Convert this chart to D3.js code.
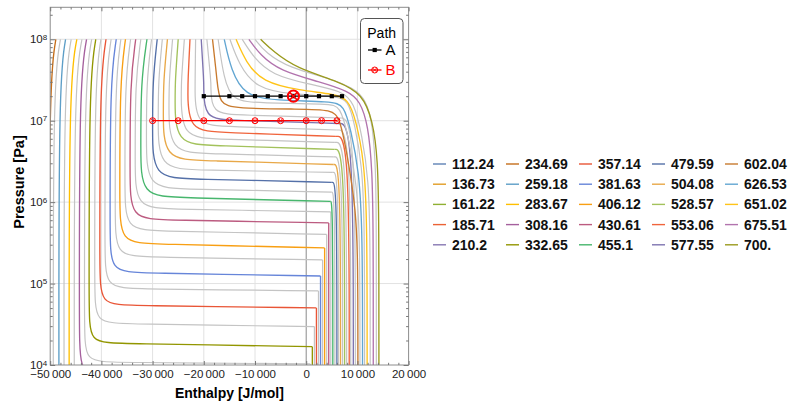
<!DOCTYPE html>
<meta charset="utf-8">
<style>
body { margin: 0; background: #fff; }
text { font-family: "Liberation Sans", Arial, sans-serif; }
</style>
<svg width="789" height="403"></svg>
<script src="https://cdn.jsdelivr.net/npm/d3@7"></script>
<script>

// legend temperatures (K) and their colours, in plotting order
var legendLabels = ["112.24","136.73","161.22","185.71","210.2","234.69","259.18","283.67","308.16","332.65",
                    "357.14","381.63","406.12","430.61","455.1","479.59","504.08","528.57","553.06","577.55",
                    "602.04","626.53","651.02","675.51","700."];
var seriesColors = ["#5E81B5","#E19C24","#8FB032","#EB6235","#8778B3","#C56E1A","#5D9EC7","#FFBF00","#A5609D","#929600",
                    "#E95536","#6685D9","#F89F13","#BC5B80","#47B66D","#5470A8","#E8A848","#A3C25C","#F0643C","#7E74B0",
                    "#C87A2E","#62A6D2","#FFC419","#B274AE","#9A9A1E"];
var grayColor = "#c4c4c4";

// isotherms below the critical point (H in J/mol, P in Pa)
var subTemps = [234.69,246.94,259.18,271.43,283.67,295.92,308.16,320.41,332.65,344.90,
                357.14,369.39,381.63,393.88,406.12,418.37,430.61,442.86,455.10,467.35,
                479.59,491.84,504.08,516.33,528.57,540.82,553.06,565.31,577.55,589.80];
// H where the isotherm meets P = 1e8
var hTop = [-48900,-48000,-47000,-45900,-44800,-43800,-42900,-41900,-41100,-40100,
            -39100,-38100,-37100,-36200,-35300,-34300,-33300,-32300,-31100,-30200,
            -29100,-28100,-27100,-26100,-25000,-23800,-22700,-21600,-20500,-19400];
// H of the steep liquid branch
var hLiq = [-50200,-49400,-48300,-47300,-46300,-45300,-44300,-43300,-42400,-41300,
            -40300,-39300,-38300,-37300,-36400,-35400,-34400,-33400,-32300,-31200,
            -30000,-28900,-27900,-26800,-25600,-24400,-23100,-21700,-20000,-18600];
// pressure where the liquid branch starts to bend
var pBend = [1e4,1e4,1e4,1e4,1e4,1e4,3.58e4,2.70e4,4.75e4,8.36e4,
             1.56e5,2.59e5,4.31e5,6.97e5,1.06e6,1.49e6,2.16e6,3.03e6,4.38e6,5.81e6,
             7.69e6,1.02e7,1.28e7,1.61e7,1.96e7,2.25e7,2.52e7,2.75e7,2.75e7,2.75e7];
// pressure of the knee corner
var pCorner = [1e4,1e4,1e4,1e4,1e4,1e4,8.23e3,1.09e4,1.87e4,3.29e4,
               5.47e4,8.85e4,1.39e5,2.18e5,3.16e5,4.56e5,6.22e5,8.49e5,1.18e6,1.49e6,
               1.98e6,2.56e6,3.34e6,4.07e6,5.11e6,6.14e6,7.48e6,8.75e6,1.05e7,1.21e7];
// where the two-phase part becomes flat
var hFlat = [-50200,-49400,-48300,-47300,-46300,-45300,-41200,-37300,-36400,-35400,
             -34400,-33400,-32500,-31300,-30100,-28900,-27800,-26600,-25000,-23900,
             -22700,-21500,-20400,-19400,-18400,-17400,-16400,-15700,-14500,-12900];
var pFlat = [1e4,1e4,1e4,1e4,1e4,1e4,8.0e3,1.08e4,1.84e4,3.20e4,
             5.40e4,8.59e4,1.35e5,2.12e5,3.07e5,4.43e5,6.04e5,8.24e5,1.14e6,1.45e6,
             1.93e6,2.48e6,3.25e6,3.96e6,4.97e6,5.97e6,7.18e6,8.49e6,1.01e7,1.18e7];
// dew corner
var hDew = [-50200,-49400,-48300,-47300,-46300,-45300,500,800,1200,1600,
            2000,2400,2800,3200,3600,4000,4400,4800,4700,4900,
            5000,5200,5300,5400,5500,5600,5800,6000,6200,6400];
var pDew = [1e4,1e4,1e4,1e4,1e4,1e4,7.56e3,1.03e4,1.68e4,2.96e4,
            5.02e4,8.13e4,1.24e5,1.95e5,2.74e5,4.01e5,5.56e5,7.59e5,1.02e6,1.33e6,
            1.75e6,2.32e6,2.90e6,3.59e6,4.44e6,5.41e6,6.41e6,7.69e6,9.25e6,1.08e7];
// H of the vapour branch at low pressure
var hVap = [-50200,-49400,-48300,-47300,-46300,-45300,500,800,1200,1600,
            2000,2400,2800,3200,3600,4000,4400,4800,5200,5600,
            6000,6300,6700,7100,7500,7900,8400,8700,9200,9600];

// isotherms near and above the critical point: control points [H, P]
var superTemps = [602.04,614.29,626.53,638.78,651.02,663.27,675.51,687.76,700];
var superCurves = [
  [[-18300,1e8],[-17400,3.16e7],[-17000,1.61e7],[-13900,1.41e7],[-1200,1.39e7],[5000,1.37e7],[6600,1.08e7],[8200,3.30e6],[9700,8.02e5],[10100,1.95e5],[10100,1e4]],
  [[-17200,1e8],[-16100,3.35e7],[-14500,1.75e7],[-9000,1.65e7],[4600,1.61e7],[6600,1.52e7],[8200,6.68e6],[9900,1.63e6],[10500,3.44e5],[10500,1e4]],
  [[-16000,1e8],[-14700,4.20e7],[-12000,2.01e7],[-6100,1.77e7],[5000,1.72e7],[7400,1.56e7],[8700,7.69e6],[10300,2.48e6],[11000,4.56e5],[11000,1e4]],
  [[-14900,1e8],[-13100,4.83e7],[-9800,2.52e7],[-3200,2.10e7],[5800,1.99e7],[8200,1.80e7],[9500,8.87e6],[10900,2.86e6],[11400,6.04e5],[11400,1e4]],
  [[-13700,1e8],[-11800,5.26e7],[-8600,2.99e7],[-1200,2.35e7],[5400,2.13e7],[8200,1.85e7],[9700,1.02e7],[11300,3.30e6],[11900,6.04e5],[11900,1e4]],
  [[-12500,1e8],[-10200,5.89e7],[-6700,3.65e7],[700,2.79e7],[7000,2.32e7],[9300,1.70e7],[10900,6.68e6],[12200,1.87e6],[12500,3.44e5],[12500,1e4]],
  [[-11200,1e8],[-9000,6.42e7],[-5100,4.08e7],[2700,2.99e7],[8200,2.32e7],[10500,1.75e7],[12100,8.87e6],[12900,2.48e6],[13100,4.56e5],[13100,1e4]],
  [[-10000,1e8],[-7900,6.79e7],[-3200,4.44e7],[4300,3.35e7],[9300,2.52e7],[11700,1.80e7],[13000,8.87e6],[13600,2.48e6],[13700,4.56e5],[13700,1e4]],
  [[-8900,1e8],[-6300,6.98e7],[-2000,4.44e7],[6600,2.99e7],[10900,2.13e7],[13000,1.02e7],[14000,3.30e6],[14200,6.04e5],[14200,1e4]]
];

// the two paths
var pathA_H = [-20000,-15000,-12500,-10000,-7500,-5000,-2500,0,2500,5000,7000];
var pathA_P = 2e7;
var pathB_H = [-30000,-25000,-20000,-15000,-10000,-5000,0,3000,6000];
var pathB_P = 1e7;
var currentState = [-2500, 2e7];

// ticks
var xTicks = [-50000,-40000,-30000,-20000,-10000,0,10000,20000];
var xGrid = [-40000,-30000,-20000,-10000,10000];
var yTicks = [1e4,1e5,1e6,1e7,1e8];
var yGrid = [1e5,1e6,1e7,1e8];

var svg = d3.select("svg");

var x = d3.scaleLinear().domain([-50000, 20000]).range([50.2, 408.6]);
var y = d3.scaleLog().domain([1e4, 2.47e8]).range([365, 7.3]);
var plotL = x.range()[0], plotR = x.range()[1], plotB = y.range()[0], plotT = y.range()[1];

svg.append("defs").append("clipPath").attr("id", "plotclip")
  .append("rect").attr("x", plotL).attr("y", plotT)
  .attr("width", plotR - plotL).attr("height", plotB - plotT);

// grid
var grid = svg.append("g").attr("stroke", "#e2e2e2").attr("stroke-width", 1);
grid.selectAll(".gx").data(xGrid).enter().append("line")
  .attr("x1", function(d) { return x(d); }).attr("x2", function(d) { return x(d); })
  .attr("y1", plotT).attr("y2", plotB);
grid.selectAll(".gy").data(yGrid).enter().append("line")
  .attr("y1", function(d) { return y(d); }).attr("y2", function(d) { return y(d); })
  .attr("x1", plotL).attr("x2", plotR);

// axis at H = 0
svg.append("line")
  .attr("x1", x(0)).attr("x2", x(0)).attr("y1", plotT).attr("y2", plotB)
  .attr("stroke", "#8a8a8a").attr("stroke-width", 1);

function colorFor(t) {
  var i = legendLabels.findIndex(function(s) { return Math.abs(parseFloat(s) - t) < 0.02; });
  return i < 0 ? grayColor : seriesColors[i];
}

var line = d3.line()
    .x(function(d) { return x(d[0]); })
    .y(function(d) { return y(d[1]); })
    .curve(d3.curveBasis);

var curves = svg.append("g").attr("clip-path", "url(#plotclip)")
    .attr("fill", "none").attr("stroke-linejoin", "round");

subTemps.forEach(function(t, i) {
  var upper = [[hTop[i], 1e8], [hLiq[i], 3e7], [hLiq[i], pBend[i]], [hLiq[i], pCorner[i]],
               [hFlat[i], pFlat[i]], [hDew[i], pDew[i]]];
  var lower = [[hDew[i], pDew[i]], [hVap[i], pDew[i]], [hVap[i], 1e4]];
  var c = colorFor(t);
  var w = c === grayColor ? 1.2 : 1.35;
  curves.append("path").attr("d", line(upper)).attr("stroke", c).attr("stroke-width", w);
  curves.append("path").attr("d", line(lower)).attr("stroke", c).attr("stroke-width", w);
});

superTemps.forEach(function(t, i) {
  var c = colorFor(t);
  curves.append("path").attr("d", line(superCurves[i]))
    .attr("stroke", c).attr("stroke-width", c === grayColor ? 1.2 : 1.35);
});

// frame
svg.append("rect").attr("x", plotL).attr("y", plotT)
  .attr("width", plotR - plotL).attr("height", plotB - plotT)
  .attr("fill", "none").attr("stroke", "#8c8c8c").attr("stroke-width", 1);

var xMinor = d3.range(-50000, 20001, 2000).filter(function(d) { return d % 10000 !== 0; });
var yMinor = [];
[1e4, 1e5, 1e6, 1e7].forEach(function(b) { for (var k = 2; k < 10; k++) yMinor.push(b * k); });
yMinor.push(2e8);

function fmtX(d) {
  if (d === 0) return "0";
  return (d < 0 ? "\u2212" : "") + d3.format(",")(Math.abs(d)).replace(/,/g, "\u2009");
}

function styleAxis(g) {
  g.select(".domain").remove();
  g.selectAll(".tick line").attr("stroke", "#777");
  g.selectAll(".tick text").attr("fill", "#222").style("font-size", "11.5px")
    .style("font-family", "'Liberation Sans', Arial, sans-serif");
}

svg.append("g").attr("transform", "translate(0," + plotB + ")")
  .call(d3.axisBottom(x).tickValues(xTicks).tickSize(-4).tickPadding(5).tickFormat(fmtX))
  .call(styleAxis);
svg.append("g").attr("transform", "translate(0," + plotB + ")")
  .call(d3.axisBottom(x).tickValues(xMinor).tickSize(-2.2).tickFormat(""))
  .call(styleAxis);
svg.append("g").attr("transform", "translate(0," + plotT + ")")
  .call(d3.axisTop(x).tickValues(xTicks).tickSize(-4).tickFormat(""))
  .call(styleAxis);
svg.append("g").attr("transform", "translate(0," + plotT + ")")
  .call(d3.axisTop(x).tickValues(xMinor).tickSize(-2.2).tickFormat(""))
  .call(styleAxis);

var yAxis = svg.append("g").attr("transform", "translate(" + plotL + ",0)")
  .call(d3.axisLeft(y).tickValues(yTicks).tickSize(-5).tickPadding(3).tickFormat(function() { return ""; }))
  .call(styleAxis);
yAxis.selectAll(".tick text").each(function(d) {
  var s = d3.select(this);
  s.append("tspan").text("10");
  s.append("tspan").attr("dy", "-0.45em").style("font-size", "8px").text(Math.round(Math.log10(d)));
});
svg.append("g").attr("transform", "translate(" + plotL + ",0)")
  .call(d3.axisLeft(y).tickValues(yMinor).tickSize(-2.5).tickFormat(""))
  .call(styleAxis);
svg.append("g").attr("transform", "translate(" + plotR + ",0)")
  .call(d3.axisRight(y).tickValues(yTicks).tickSize(-5).tickFormat(""))
  .call(styleAxis);
svg.append("g").attr("transform", "translate(" + plotR + ",0)")
  .call(d3.axisRight(y).tickValues(yMinor).tickSize(-2.5).tickFormat(""))
  .call(styleAxis);

// axis labels
svg.append("text").attr("x", (plotL + plotR) / 2).attr("y", 398)
  .attr("text-anchor", "middle").style("font-weight", "bold").style("font-size", "14px")
  .text("Enthalpy [J/mol]");
svg.append("text").attr("transform", "translate(24,182) rotate(-90)")
  .attr("text-anchor", "middle").style("font-weight", "bold").style("font-size", "14.5px")
  .text("Pressure [Pa]");

// paths A and B
var paths = svg.append("g");
function crossCircle(g, cx, cy, r, sw) {
  g.append("circle").attr("cx", cx).attr("cy", cy).attr("r", r)
    .attr("fill", "none").attr("stroke", "#f00").attr("stroke-width", sw);
  var k = r * 0.7;
  g.append("path").attr("d", "M" + (cx - k) + "," + (cy - k) + "L" + (cx + k) + "," + (cy + k) +
                             "M" + (cx - k) + "," + (cy + k) + "L" + (cx + k) + "," + (cy - k))
    .attr("stroke", "#f00").attr("stroke-width", sw * 0.8);
}

paths.append("path")
  .attr("d", d3.line()(pathB_H.map(function(h) { return [x(h), y(pathB_P)]; })))
  .attr("stroke", "#f00").attr("stroke-width", 1.3).attr("fill", "none");
pathB_H.forEach(function(h) { crossCircle(paths, x(h), y(pathB_P), 3, 1); });

paths.append("path")
  .attr("d", d3.line()(pathA_H.map(function(h) { return [x(h), y(pathA_P)]; })))
  .attr("stroke", "#000").attr("stroke-width", 1.3).attr("fill", "none");
paths.selectAll(".sqA").data(pathA_H).enter().append("rect")
  .attr("x", function(h) { return x(h) - 2.1; }).attr("y", y(pathA_P) - 2.1)
  .attr("width", 4.2).attr("height", 4.2).attr("fill", "#000");

crossCircle(paths, x(currentState[0]), y(currentState[1]), 5.6, 2);

// Path legend box
var pl = svg.append("g");
pl.append("rect").attr("x", 360.5).attr("y", 18.5).attr("width", 42.5).attr("height", 65)
  .attr("rx", 4).attr("fill", "#fff").attr("stroke", "#555").attr("stroke-width", 1);
pl.append("text").attr("x", 381.7).attr("y", 37.5).attr("text-anchor", "middle")
  .style("font-size", "14px").text("Path");
pl.append("line").attr("x1", 368).attr("x2", 381.5).attr("y1", 50).attr("y2", 50)
  .attr("stroke", "#000").attr("stroke-width", 1.3);
pl.append("rect").attr("x", 372.6).attr("y", 47.9).attr("width", 4.2).attr("height", 4.2).attr("fill", "#000");
pl.append("text").attr("x", 385.5).attr("y", 55.2).style("font-size", "15px").text("A");
pl.append("line").attr("x1", 368).attr("x2", 381.5).attr("y1", 70).attr("y2", 70)
  .attr("stroke", "#f00").attr("stroke-width", 1.3);
crossCircle(pl, 374.7, 70, 3, 1);
pl.append("text").attr("x", 385.5).attr("y", 75.2).style("font-size", "15px")
  .attr("fill", "#f00").text("B");

// temperature legend (5 columns, filled column by column)
var leg = svg.append("g").style("font-weight", "bold").style("font-size", "14px");
var colStep = 73, rowStep = 20.2, legX = 433, legY = 164;
legendLabels.forEach(function(lab, i) {
  var col = Math.floor(i / 5), row = i % 5;
  var lx = legX + col * colStep, ly = legY + row * rowStep;
  leg.append("line").attr("x1", lx).attr("x2", lx + 13).attr("y1", ly).attr("y2", ly)
    .attr("stroke", seriesColors[i]).attr("stroke-width", 1.4);
  leg.append("text").attr("x", lx + 19).attr("y", ly).attr("dy", "0.36em").attr("fill", "#111").text(lab);
});

</script>
